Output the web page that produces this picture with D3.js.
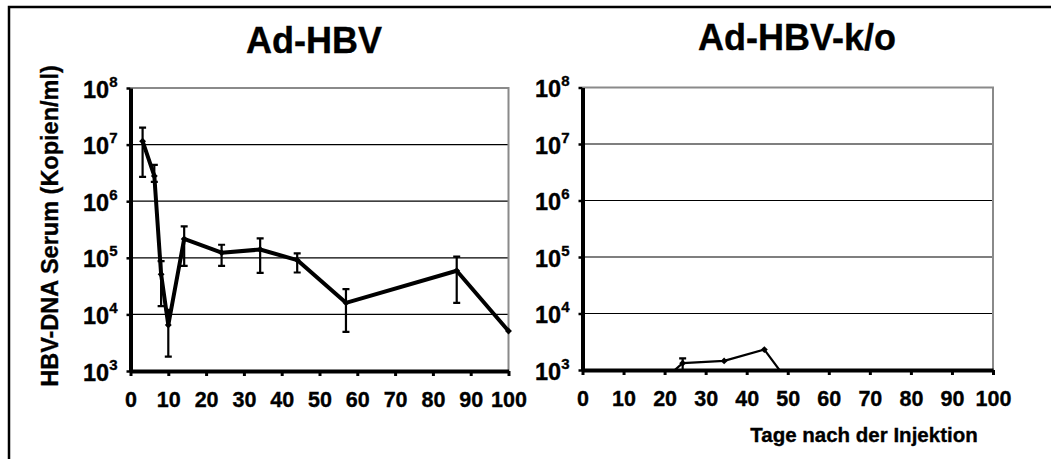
<!DOCTYPE html>
<html>
<head>
<meta charset="utf-8">
<script src="https://cdn.jsdelivr.net/npm/d3@7"></script>
<style>
  body { margin: 0; background: #fff; }
  svg { display: block; font-family: Arial, "Liberation Sans", sans-serif; font-weight: bold; }
  svg text { stroke: #000; stroke-width: 0.35px; }
</style>
</head>
<body>
<svg width="1051" height="459"></svg>
<script>
// tick values
const dayTicks = [0, 10, 20, 30, 40, 50, 60, 70, 80, 90, 100];
const logTicks = [1e3, 1e4, 1e5, 1e6, 1e7, 1e8];

// Ad-HBV (mean with error bars)
const hbvDays  = [3.2, 6.3, 8.1, 10.0, 14.2, 24.1, 34.3, 44.1, 57.0, 86.3, 100];
const hbvMean  = [1.15e7, 2.8e6, 5.1e4, 6.5e3, 2.15e5, 1.23e5, 1.4e5, 9.1e4, 1.6e4, 5.9e4, 5.1e3];
const hbvUpper = [2.0e7, 4.4e6, 8.7e4, 1.2e4, 3.6e5, 1.7e5, 2.2e5, 1.2e5, 2.8e4, 1.05e5, null];
const hbvLower = [2.7e6, 2.2e6, 1.4e4, 1.8e3, 7.2e4, 7.2e4, 5.4e4, 5.5e4, 4.9e3, 1.6e4, null];

// Ad-HBV-k/o (mostly below detection)
const koDays  = [3.2, 6.3, 8.1, 10.0, 14.2, 24.4, 34.5, 44.3, 57.0, 86.3, 100];
const koMean  = [300, 300, 300, 300, 300, 1.32e3, 1.45e3, 2.3e3, 130, 130, 130];
const koUpper = [null, null, null, null, null, 1.6e3, null, null, null, null, null];
const koLower = [null, null, null, null, null, 1.0e3, null, null, null, null, null];

const svg = d3.select("svg");

// outer frame (top + left edges)
svg.append("path")
    .attr("d", "M9,459 V7 H1051")
    .attr("fill", "none")
    .attr("stroke", "#000")
    .attr("stroke-width", 2.5);

function panel(opt) {
    const x = d3.scaleLinear().domain([0, 100]).range(opt.xr);
    const y = d3.scaleLog().domain([1e3, 1e8]).range(opt.yr);
    const g = svg.append("g");

    // title
    g.append("text")
        .attr("x", opt.titleX).attr("y", opt.titleY)
        .attr("text-anchor", "middle")
        .attr("font-size", 36)
        .text(opt.title);

    // clip for the data
    g.append("clipPath").attr("id", opt.id)
      .append("rect")
        .attr("x", opt.xr[0]).attr("y", opt.yr[1] - 10)
        .attr("width", opt.xr[1] - opt.xr[0] + 10)
        .attr("height", opt.yr[0] - opt.yr[1] + 10);

    // grid lines
    g.selectAll(".grid")
      .data(logTicks.slice(1, 5))
      .join("line")
        .attr("x1", opt.xr[0]).attr("x2", opt.xr[1])
        .attr("y1", d => y(d)).attr("y2", d => y(d))
        .attr("stroke", "#000").attr("stroke-width", 1.2);

    // top + right border of plot area
    g.append("path")
        .attr("d", `M${opt.xr[0]},${y(1e8)} H${opt.xr[1]} V${y(1e3)}`)
        .attr("fill", "none")
        .attr("stroke", "#8a8a8a")
        .attr("stroke-width", 2);

    // data
    const dg = g.append("g").attr("clip-path", `url(#${opt.id})`);
    const pts = opt.days.map((d, i) => ({d: d, m: opt.mean[i], hi: opt.upper[i], lo: opt.lower[i]}));

    const bars = pts.filter(p => p.hi != null);
    dg.selectAll(".eb")
      .data(bars)
      .join("path")
        .attr("d", p => {
            const cx = x(p.d), y1 = y(p.hi), y2 = y(p.lo);
            return `M${cx},${y1} V${y2} M${cx - 3.5},${y1} H${cx + 3.5} M${cx - 3.5},${y2} H${cx + 3.5}`;
        })
        .attr("fill", "none")
        .attr("stroke", "#000")
        .attr("stroke-width", 2.2);

    dg.append("path")
        .datum(pts)
        .attr("d", d3.line().x(p => x(p.d)).y(p => y(p.m)))
        .attr("fill", "none")
        .attr("stroke", "#000")
        .attr("stroke-width", opt.lineW)
        .attr("stroke-linejoin", "round");

    dg.selectAll(".mk")
      .data(pts)
      .join("path")
        .attr("transform", p => `translate(${x(p.d)},${y(p.m)})`)
        .attr("d", d3.symbol(d3.symbolDiamond2, 30))
        .attr("fill", "#000");

    // y axis
    const ya = g.append("g")
        .attr("transform", `translate(${opt.xr[0]},0)`)
        .call(d3.axisLeft(y).tickValues(logTicks).tickFormat("").tickSize(4).tickSizeOuter(0));
    ya.select(".domain").attr("stroke-width", 4);
    ya.selectAll(".tick line").attr("stroke-width", 2.5);
    const lab = ya.selectAll(".tick").append("text")
        .attr("x", -13).attr("y", 9)
        .attr("fill", "#000")
        .attr("text-anchor", "end")
        .attr("font-size", 23.5);
    lab.append("tspan").text("10");
    lab.append("tspan")
        .attr("dy", -11).attr("font-size", 15)
        .text(d => Math.round(Math.log10(d)));

    // x axis
    const xa = g.append("g")
        .attr("transform", `translate(0,${opt.yr[0]})`)
        .call(d3.axisBottom(x).tickValues(dayTicks).tickSize(5).tickSizeOuter(0).tickPadding(16));
    xa.select(".domain").attr("stroke-width", 4);
    xa.selectAll(".tick line").attr("stroke-width", 3);
    xa.selectAll(".tick text")
        .attr("fill", "#000")
        .attr("font-size", 21.5)
        .attr("font-family", "Arial, 'Liberation Sans', sans-serif");
}

panel({
    id: "c1", title: "Ad-HBV", titleX: 314, titleY: 53,
    xr: [130.5, 508.5], yr: [371, 88],
    days: hbvDays, mean: hbvMean, upper: hbvUpper, lower: hbvLower, lineW: 4
});

panel({
    id: "c2", title: "Ad-HBV-k/o", titleX: 797, titleY: 50,
    xr: [582.5, 993], yr: [370, 87.5],
    days: koDays, mean: koMean, upper: koUpper, lower: koLower, lineW: 2.2
});

// axis titles
svg.append("text")
    .attr("transform", "translate(58,226) rotate(-90)")
    .attr("text-anchor", "middle")
    .attr("font-size", 23.5)
    .text("HBV-DNA Serum (Kopien/ml)");

svg.append("text")
    .attr("x", 864).attr("y", 442)
    .attr("text-anchor", "middle")
    .attr("font-size", 20.5)
    .text("Tage nach der Injektion");
</script>
</body>
</html>
